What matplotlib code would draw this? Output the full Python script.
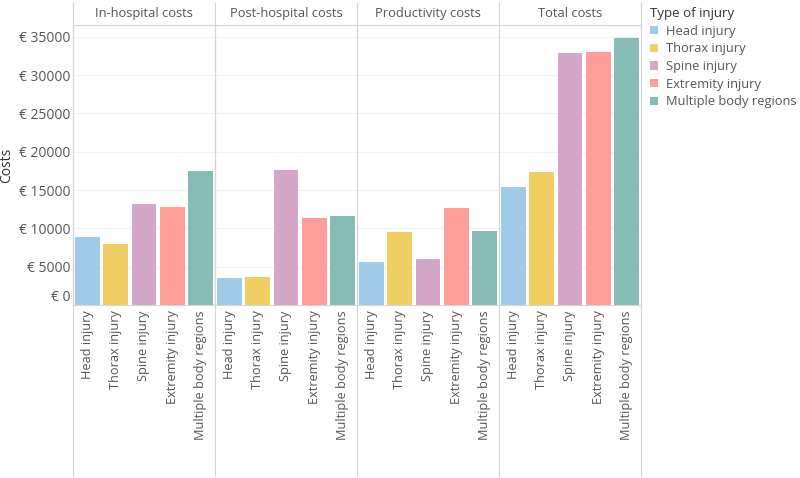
import matplotlib
matplotlib.use("Agg")
import matplotlib.pyplot as plt
from matplotlib.patches import Patch
from matplotlib.lines import Line2D

plt.rcParams['font.family'] = ['Open Sans', 'DejaVu Sans']

# data
panels = ['In-hospital costs', 'Post-hospital costs', 'Productivity costs', 'Total costs']
injuries = ['Head injury', 'Thorax injury', 'Spine injury', 'Extremity injury', 'Multiple body regions']
colors = ['#A0CBE8', '#F1CE63', '#D4A6C8', '#FF9D9A', '#86BCB6']
in_hospital = [8900, 7900, 13200, 12850, 17550]
post_hospital = [3500, 3600, 17600, 11350, 11600]
productivity = [5600, 9500, 6000, 12700, 9650]
total = [15350, 17300, 32900, 33050, 34850]
values = [in_hospital, post_hospital, productivity, total]
yticks = [0, 5000, 10000, 15000, 20000, 25000, 30000, 35000]
ytick_labels = ['€ ' + str(t) for t in yticks]

W, H = 800, 478
fig = plt.figure(figsize=(W / 100, H / 100), dpi=100)

line_col = '#d4d4d4'
grid_col = '#f2f2f2'
text_col = '#555555'

left, right, top, bottom = 73, 641, 25, 305
pw = (right - left) / len(panels)

for i, (name, vals) in enumerate(zip(panels, values)):
    ax = fig.add_axes([(left + i * pw) / W, (H - bottom) / H, pw / W, (bottom - top) / H])
    x = range(len(injuries))
    ax.bar(x, vals, width=0.88, color=colors, zorder=2)
    ax.set_xlim(-0.5, len(injuries) - 0.5)
    ax.set_ylim(0, 36550)
    ax.set_yticks(yticks)
    ax.yaxis.grid(True, color=grid_col, linewidth=0.8, zorder=0)
    ax.set_xticks(list(x))
    ax.set_xticklabels(injuries, rotation=90, va='top', ha='center',
                       fontsize=9.2, color=text_col)
    ax.tick_params(axis='both', length=0)
    ax.tick_params(axis='x', pad=4)
    ax.spines['right'].set_visible(False)
    for s in ['top', 'bottom', 'left']:
        ax.spines[s].set_color(line_col)
        ax.spines[s].set_linewidth(0.8)
    if i == 0:
        ax.set_yticklabels(ytick_labels, fontsize=10, color=text_col)
        ax.get_yticklabels()[0].set_va('bottom')
        ax.tick_params(axis='y', pad=2)
        ax.set_ylabel('Costs', fontsize=10, color='#333333', labelpad=3)
    else:
        ax.set_yticklabels([])
    # divider lines through header and label area
    ax.add_line(Line2D([0, 0], [-0.61, 1.08], transform=ax.transAxes,
                       color=line_col, linewidth=0.8, clip_on=False))
    if i == len(panels) - 1:
        ax.add_line(Line2D([1, 1], [-0.61, 1.08], transform=ax.transAxes,
                           color=line_col, linewidth=0.8, clip_on=False))
    ax.text(0.5, 1.04, name, transform=ax.transAxes, ha='center', va='center',
            fontsize=9.3, color=text_col)

handles = [Patch(facecolor=c, edgecolor='none') for c in colors]
leg = fig.legend(handles, injuries, loc='upper left', bbox_to_anchor=(645 / W, 1 - 2 / H),
                 frameon=False, title='Type of injury', fontsize=9.3,
                 title_fontsize=9.5, handlelength=0.6, handleheight=0.6,
                 handletextpad=0.6, labelspacing=0.36, borderaxespad=0,
                 alignment='left')
leg.get_title().set_color('#333333')
for t in leg.get_texts():
    t.set_color(text_col)

fig.savefig('out.png', dpi=100)
